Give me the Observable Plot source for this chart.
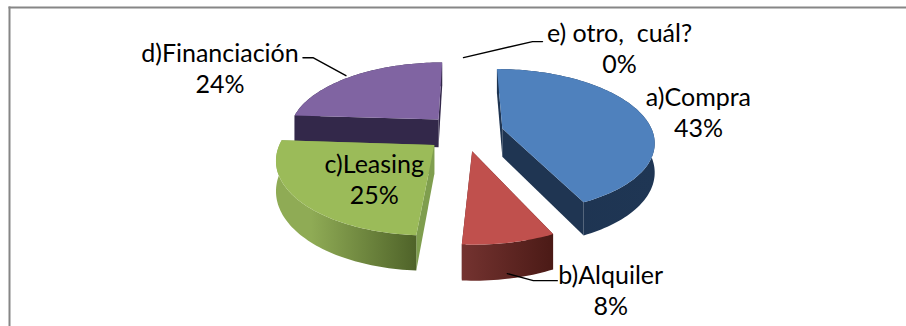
<!DOCTYPE html>
<html>
<head>
<meta charset="utf-8">
<script src="https://cdn.jsdelivr.net/npm/d3@7"></script>
<script src="https://cdn.jsdelivr.net/npm/@observablehq/plot@0.6"></script>
<style>
  html, body { margin: 0; padding: 0; background: #fff; }
  svg { display: block; }
  svg text { white-space: pre; }
</style>
</head>
<body>
<div id="chart"></div>
<script>
// Survey answers
const categories = ["a)Compra", "b)Alquiler", "c)Leasing", "d)Financiación", "e) otro,  cuál?"];
const shares = [43, 8, 25, 24, 0];

// Slice palette
const topColors = ["#4f81bd", "#c0504d", "#9bbb59", "#8064a2", "#4bacc6"];
const wallColors = ["#1f3552", "#5a2320", "#7f9e4e", "#33284a", "#2f6d7e"];
const rimStart = ["#1f3654", "#743330", "#8fab55", "#33284a", "#2f6d7e"];
const rimEnd = ["#1d3350", "#4b1a16", "#4f6329", "#33284a", "#2f6d7e"];

// Perspective pie parameters
const W = 906, H = 326;
const centre = {x: 464, y: 132};
const radiusX = 150.5, radiusY = 70.6, perspective = 0.167, explode = 0.26, depth = 28.5;

// Label offsets from the slice's rim point, and leader bends for the outside labels
const labelShift = [[57, -2], [101.4, 47], [75, -22], [-132, -9], [155, -11.5]];
const leaderShift = {
  1: [[-2, 31], [24, 38], [48, 38]],
  3: [[-6, -0.6], [-39, -18.6], [-49, -18.6]],
  4: [[-1, -1.4], [68, -17.4], [78, -17.4]]
};

const arcs = d3.pie().sort(null).value(d => d)(shares);

// Projects a point of a slice: angle clockwise from 12 o'clock, r as a fraction of the radius,
// h as a fraction of the pie's height (0 = top face, 1 = bottom).
function project(angle, r, mid, h = 0) {
  const u = r * Math.sin(angle) + explode * Math.sin(mid);
  const v = -r * Math.cos(angle) - explode * Math.cos(mid);
  const s = 1 / (1 - perspective * v);
  return {x: centre.x + radiusX * u * s, y: centre.y + radiusY * v * s + h * depth * s};
}

const polys = [];
function addPoly(id, fill, points) {
  [...points, points[0]].forEach(p => polys.push({id, fill, x: p.x, y: p.y}));
}

// Painter's order: back slices first, then the front ones
[3, 0, 2, 1].forEach(i => {
  const {startAngle: a0, endAngle: a1} = arcs[i];
  const mid = (a0 + a1) / 2;
  const n = Math.max(2, Math.ceil((a1 - a0) * 40));
  const angles = d3.range(n + 1).map(j => a0 + (a1 - a0) * j / n);
  const apex = project(0, 0, mid), apexLow = project(0, 0, mid, 1);

  addPoly(`w0${i}`, wallColors[i], [apex, project(a0, 1, mid), project(a0, 1, mid, 1), apexLow]);
  addPoly(`w1${i}`, wallColors[i], [apex, project(a1, 1, mid), project(a1, 1, mid, 1), apexLow]);
  addPoly(`r${i}`, `url(#rim${i})`, [
    ...angles.map(a => project(a, 1, mid)),
    ...angles.slice().reverse().map(a => project(a, 1, mid, 1))
  ]);
  addPoly(`t${i}`, topColors[i], [apex, ...angles.map(a => project(a, 1, mid))]);
});

const labels = arcs.map((arc, i) => {
  const mid = (arc.startAngle + arc.endAngle) / 2;
  const p = project(mid, 1, mid);
  return {
    x: p.x + labelShift[i][0],
    y: p.y + labelShift[i][1],
    text: `${categories[i]}\n${shares[i]}%`
  };
});

const leaders = Object.entries(leaderShift).flatMap(([i, bends]) => {
  const arc = arcs[+i];
  const mid = (arc.startAngle + arc.endAngle) / 2;
  const p = project(mid, 1, mid);
  return bends.map(([dx, dy]) => ({id: i, x: p.x + dx, y: p.y + dy}));
});

// Horizontal shading of each slice's outer wall
function rimGradients() {
  const defs = d3.create("svg:defs");
  categories.forEach((_, i) => {
    const g = defs.append("linearGradient").attr("id", `rim${i}`);
    const [left, right] = i === 0 ? [rimEnd[i], rimStart[i]] : [rimStart[i], rimEnd[i]];
    g.append("stop").attr("offset", "0").attr("stop-color", left);
    g.append("stop").attr("offset", i === 2 ? "0.25" : "0").attr("stop-color", left);
    g.append("stop").attr("offset", "1").attr("stop-color", right);
  });
  return defs.node();
}

const chart = Plot.plot({
  width: W,
  height: H,
  marginLeft: 9, marginTop: 7, marginRight: 0, marginBottom: 0,
  x: {domain: [9, W], axis: null},
  y: {domain: [7, H], range: [7, H], axis: null},
  color: {type: "identity"},
  style: {fontFamily: "Lato, sans-serif", background: "#fff"},
  marks: [
    rimGradients,
    Plot.frame({anchor: "left", stroke: "#868686", strokeWidth: 2}),
    Plot.frame({anchor: "top", stroke: "#868686", strokeWidth: 2}),
    Plot.line(polys, {x: "x", y: "y", z: "id", fill: "fill", curve: "linear"}),
    Plot.line(leaders, {x: "x", y: "y", z: "id", stroke: "#000", strokeWidth: 1.4, curve: "linear"}),
    Plot.text(labels, {x: "x", y: "y", text: "text", fontSize: 25, lineHeight: 1.24, fill: "#000", textAnchor: "middle"})
  ]
});
document.getElementById("chart").append(chart);
</script>
</body>
</html>
